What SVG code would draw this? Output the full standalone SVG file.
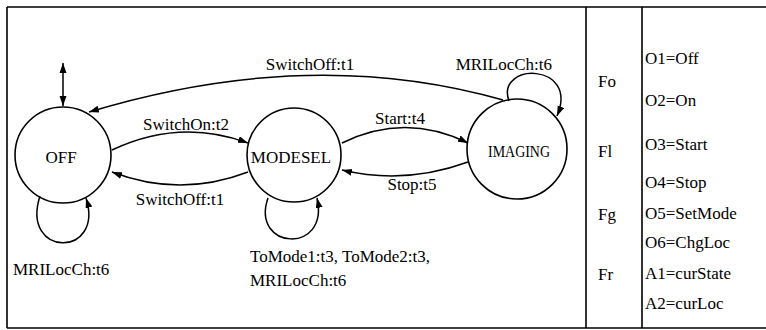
<svg xmlns="http://www.w3.org/2000/svg" width="766" height="330" viewBox="0 0 766 330">
<style>
.t{font-family:'Liberation Serif','DejaVu Serif',Tinos,'Times New Roman',Times,serif;font-size:17px;fill:#000}
.n{fill:none;stroke:#000;stroke-width:1.6}
.e{fill:none;stroke:#000;stroke-width:1.5}
.b{fill:none;stroke:#000;stroke-width:1.6}
</style>
<defs>
<marker id="ah" markerUnits="userSpaceOnUse" markerWidth="11" markerHeight="8" refX="10" refY="3.5" orient="auto">
<path d="M0,0 L10,3.5 L0,7 z" fill="#000"/>
</marker>
<marker id="as" markerUnits="userSpaceOnUse" markerWidth="11" markerHeight="8" refX="0" refY="3.5" orient="auto">
<path d="M10,0 L0,3.5 L10,7 z" fill="#000"/>
</marker>
</defs>
<g id="frame">
<path class="b" d="M7,7 H766 M7,7 V328 M7,328 H766 M586,7 V328 M642,7 V328"/>
</g>
<g id="OFF">
<circle class="n" cx="63" cy="155" r="48"/>
<text class="t" font-family="Liberation Serif, serif" x="61" y="163" text-anchor="middle" font-size="16">OFF</text>
</g>
<g id="MODESEL">
<circle class="n" cx="294" cy="155" r="47"/>
<text class="t" font-family="Liberation Serif, serif" x="291" y="163" text-anchor="middle">MODESEL</text>
</g>
<g id="IMAGING">
<circle class="n" cx="517" cy="149" r="50"/>
<text class="t" font-family="Liberation Serif, serif" x="519" y="157" text-anchor="middle" font-size="15" textLength="62" lengthAdjust="spacingAndGlyphs">IMAGING</text>
</g>
<g id="connectors">
<line class="e" x1="63" y1="63" x2="63" y2="106" marker-start="url(#as)" marker-end="url(#ah)"/>
<path class="e" d="M503,100 Q310,45 89,112" marker-end="url(#ah)"/>
<path class="e" d="M112,150 Q180,118 248,143" marker-end="url(#ah)"/>
<path class="e" d="M248,172 Q180,198 112,172" marker-end="url(#ah)"/>
<path class="e" d="M342,143 Q405,112 468,143" marker-end="url(#ah)"/>
<path class="e" d="M468,162 Q405,185 342,170" marker-end="url(#ah)"/>
<path class="e" d="M509,101 C495,62 580,62 557,116" marker-end="url(#ah)"/>
<path class="e" d="M268,198 C250,250 330,255 317,198" marker-end="url(#ah)"/>
<path class="e" d="M40,196 C20,258 105,258 86,198" marker-end="url(#ah)"/>
</g>
<g id="labels" font-family="Liberation Serif, serif">
<text class="t" x="310" y="70" text-anchor="middle">SwitchOff:t1</text>
<text class="t" x="552" y="70" text-anchor="end">MRILocCh:t6</text>
<text class="t" x="186" y="130" text-anchor="middle">SwitchOn:t2</text>
<text class="t" x="180" y="205" text-anchor="middle">SwitchOff:t1</text>
<text class="t" x="400" y="124" text-anchor="middle">Start:t4</text>
<text class="t" x="412" y="190" text-anchor="middle">Stop:t5</text>
<text class="t" x="250" y="262">ToMode1:t3, ToMode2:t3,</text>
<text class="t" x="250" y="286">MRILocCh:t6</text>
<text class="t" x="13" y="275">MRILocCh:t6</text>
</g>
<g id="table" font-family="Liberation Serif, serif">
<text class="t" x="598" y="87">Fo</text>
<text class="t" x="598" y="157">Fl</text>
<text class="t" x="598" y="220">Fg</text>
<text class="t" x="598" y="280">Fr</text>
<text class="t" x="645" y="64">O1=Off</text>
<text class="t" x="645" y="106">O2=On</text>
<text class="t" x="645" y="150">O3=Start</text>
<text class="t" x="645" y="188">O4=Stop</text>
<text class="t" x="645" y="219">O5=SetMode</text>
<text class="t" x="645" y="248">O6=ChgLoc</text>
<text class="t" x="645" y="279">A1=curState</text>
<text class="t" x="645" y="309">A2=curLoc</text>
</g>
</svg>
